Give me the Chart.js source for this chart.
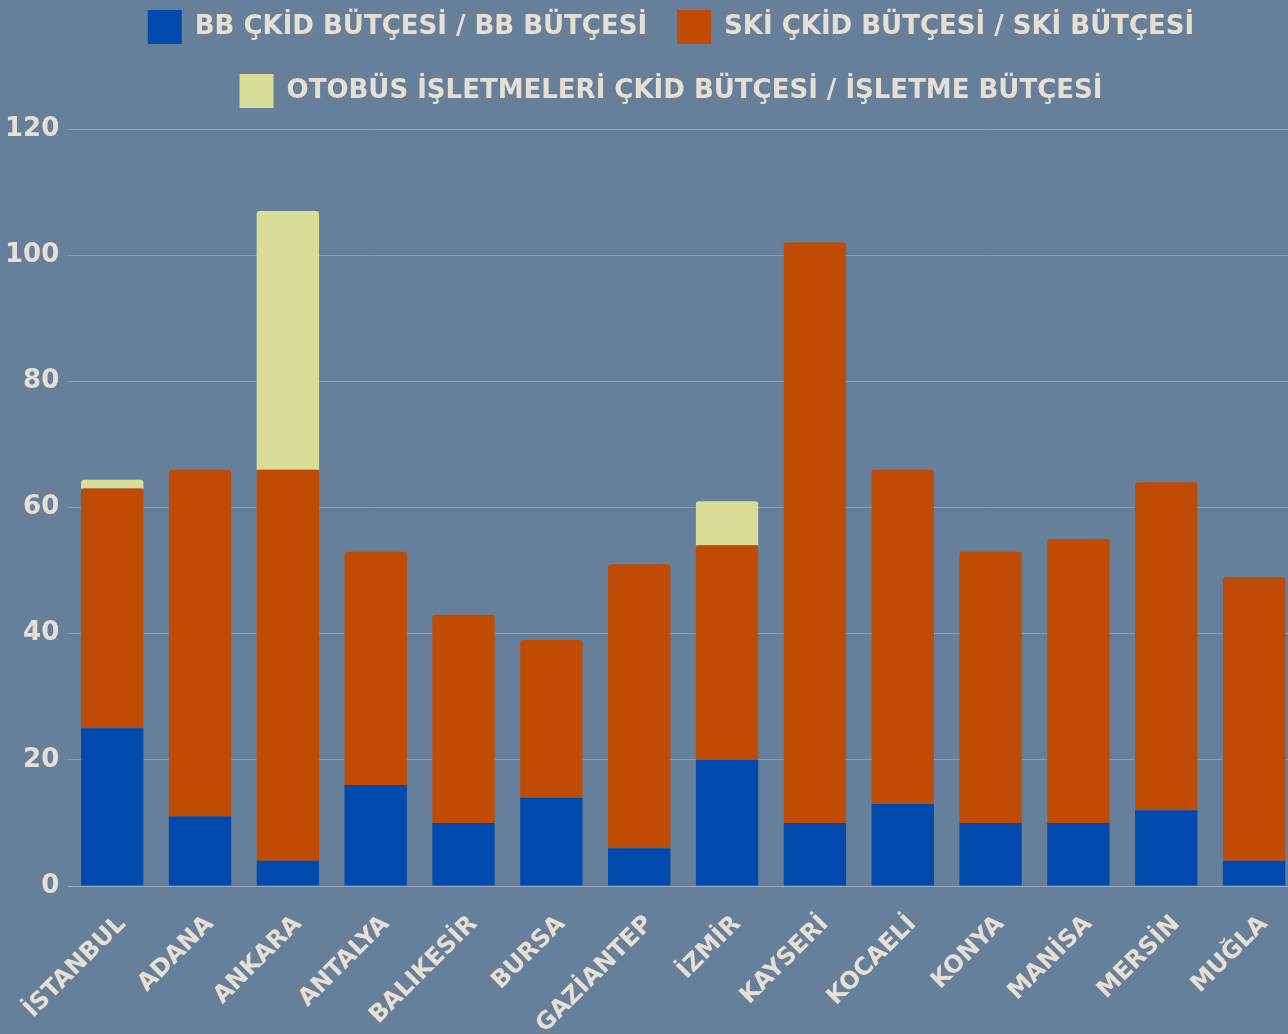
<!DOCTYPE html>
<html>
<head>
<meta charset="utf-8">
<script src="https://cdn.jsdelivr.net/npm/chart.js@4/dist/chart.umd.min.js"></script>
<style>
  html, body { margin: 0; padding: 0; background: #66809b; overflow: hidden; }
  #wrap { width: 1298px; height: 1034px; }
</style>
</head>
<body>
<div id="wrap"><canvas id="butce"></canvas></div>
<script>
const cities = ['İSTANBUL', 'ADANA', 'ANKARA', 'ANTALYA', 'BALIKESİR', 'BURSA', 'GAZİANTEP',
  'İZMİR', 'KAYSERİ', 'KOCAELİ', 'KONYA', 'MANİSA', 'MERSİN', 'MUĞLA'];
const bbBudget = [25, 11, 4, 16, 10, 14, 6, 20, 10, 13, 10, 10, 12, 4];
const skiBudget = [38, 55, 62, 37, 33, 25, 45, 34, 92, 53, 43, 45, 52, 45];
const otobusBudget = [1.4, 0, 41, 0, 0, 0, 0, 7, 0, 0, 0, 0, 0, 0];

const textColor = '#e7dfd4';
const fontFamily = '"DejaVu Sans", sans-serif';

// a bit more room under the legend, and legend centred over the plot
const legendGap = {
  id: 'legendGap',
  beforeInit(chart) {
    const fit = chart.legend.fit;
    chart.legend.fit = function () {
      fit.bind(chart.legend)();
      this.height += 11;
    };
  },
  afterLayout(chart) {
    chart.legend.left += 24;
    chart.legend.right += 24;
  }
};

const ctx = document.getElementById('butce').getContext('2d');
new Chart(ctx, {
  type: 'bar',
  data: {
    labels: cities,
    datasets: [
      { label: 'BB ÇKİD BÜTÇESİ / BB BÜTÇESİ', data: bbBudget, backgroundColor: '#004aad' },
      { label: 'SKİ ÇKİD BÜTÇESİ / SKİ BÜTÇESİ', data: skiBudget, backgroundColor: '#bf4b04',
        borderRadius: { topLeft: 3, topRight: 3 }, borderSkipped: false },
      { label: 'OTOBÜS İŞLETMELERİ ÇKİD BÜTÇESİ / İŞLETME BÜTÇESİ', data: otobusBudget, backgroundColor: '#d8dd98',
        borderRadius: { topLeft: 3, topRight: 3 }, borderSkipped: false }
    ]
  },
  plugins: [legendGap],
  options: {
    responsive: true,
    maintainAspectRatio: false,
    animation: false,
    layout: { padding: { top: -20, right: 0, left: -4, bottom: 0 } },
    datasets: { bar: { barPercentage: 0.71, categoryPercentage: 1 } },
    plugins: {
      legend: {
        position: 'top',
        labels: {
          color: textColor,
          font: { family: fontFamily, size: 26, weight: 'bold' },
          boxWidth: 34, boxHeight: 34,
          padding: 30
        }
      },
      tooltip: { enabled: false }
    },
    scales: {
      x: {
        stacked: true,
        grid: { display: false },
        border: { color: '#98a8ba' },
        ticks: {
          color: textColor,
          font: { family: fontFamily, size: 24, weight: 'bold' },
          maxRotation: 45, minRotation: 45,
          padding: 16,
          labelOffset: 10
        },
        // labels may run off the bottom, as in the original
        afterFit(scale) {
          scale.paddingLeft = 0;
          scale.height -= 21;
        }
      },
      y: {
        stacked: true,
        min: 0, max: 120,
        grid: { color: 'rgba(180,195,212,0.45)', drawTicks: false },
        border: { display: false },
        ticks: {
          stepSize: 20,
          color: textColor,
          font: { family: fontFamily, size: 26, weight: 'bold' },
          padding: 9
        }
      }
    }
  }
});
</script>
</body>
</html>
